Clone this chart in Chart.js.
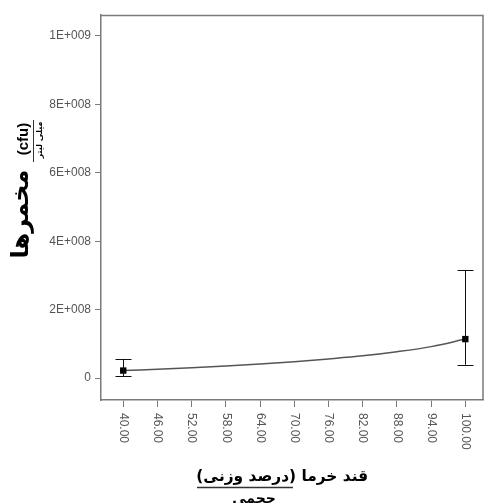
<!DOCTYPE html>
<html>
<head>
<meta charset="utf-8">
<script src="https://cdn.jsdelivr.net/npm/chart.js@4"></script>
<style>
html,body{margin:0;padding:0;background:#fff;}
canvas{display:block;}
</style>
</head>
<body>
<canvas id="c" width="484" height="503" style="width:484px;height:503px"></canvas>
<script>
// ---- data ----
const xTickValues = [40, 46, 52, 58, 64, 70, 76, 82, 88, 94, 100];
const xTickLabels = ['40.00','46.00','52.00','58.00','64.00','70.00','76.00','82.00','88.00','94.00','100.00'];
const yTickValues = [0, 2e8, 4e8, 6e8, 8e8, 1e9];
const yTickLabels = ['0','2E+008','4E+008','6E+008','8E+008','1E+009'];

const pointX = [40, 100];
const pointY = [2.2e7, 1.14e8];
const errLow = [5e6, 3.9e7];
const errHigh = [5.6e7, 3.16e8];

const curveX = [40, 46, 52, 58, 64, 70, 76, 82, 88, 94, 100];
const curveY = [2.2e7, 2.6e7, 3.0e7, 3.5e7, 4.1e7, 4.8e7, 5.6e7, 6.5e7, 7.7e7, 9.2e7, 1.14e8];

const yTitleMain = 'مخمرها';
const yTitleNum = '(cfu)';
const yTitleDen = 'میلی لیتر';
const xTitle = 'قند خرما (درصد وزنی)';
const xTitleDen = 'حجمی';

const axisColor = '#7a7a7a';
const tickFont = '12px "Liberation Sans", Arial, sans-serif';

const framePlugin = {
  id: 'frame',
  afterDatasetsDraw(chart) {
    const {ctx, chartArea: a, scales} = chart;
    ctx.save();
    ctx.strokeStyle = axisColor;
    ctx.lineWidth = 1.5;
    ctx.beginPath();
    ctx.moveTo(a.left, a.top + 0.5);
    ctx.lineTo(a.right, a.top + 0.5);
    ctx.lineTo(a.right, a.bottom);
    ctx.stroke();
    // error bars
    ctx.strokeStyle = '#111';
    ctx.lineWidth = 1;
    for (let i = 0; i < pointX.length; i++) {
      const px = Math.round(scales.x.getPixelForValue(pointX[i])) + 0.5;
      const yl = scales.y.getPixelForValue(errLow[i]);
      const yh = scales.y.getPixelForValue(errHigh[i]);
      ctx.beginPath();
      ctx.moveTo(px, yl); ctx.lineTo(px, yh);
      ctx.moveTo(px - 8, Math.round(yl) + 0.5); ctx.lineTo(px + 8, Math.round(yl) + 0.5);
      ctx.moveTo(px - 8, Math.round(yh) + 0.5); ctx.lineTo(px + 8, Math.round(yh) + 0.5);
      ctx.stroke();
    }
    ctx.restore();
  },
  afterDraw(chart) {
    const {ctx, scales} = chart;
    ctx.save();
    // x tick labels rotated clockwise
    ctx.fillStyle = '#555';
    ctx.font = tickFont;
    ctx.textAlign = 'left';
    ctx.textBaseline = 'middle';
    xTickValues.forEach((v, i) => {
      const px = scales.x.getPixelForValue(v);
      ctx.save();
      ctx.translate(px, 413);
      ctx.rotate(Math.PI / 2);
      ctx.fillText(xTickLabels[i], 0, 0);
      ctx.restore();
    });
    // x title (single RTL string, right edge at 368)
    ctx.fillStyle = '#000';
    ctx.direction = 'rtl';
    ctx.textAlign = 'right';
    ctx.textBaseline = 'alphabetic';
    let fs = 17;
    ctx.font = 'bold ' + fs + 'px "DejaVu Sans", sans-serif';
    const w = ctx.measureText(xTitle).width;
    fs = Math.min(18, fs * 172 / w);
    ctx.font = 'bold ' + fs.toFixed(1) + 'px "DejaVu Sans", sans-serif';
    ctx.fillText(xTitle, 368, 481);
    ctx.strokeStyle = '#333';
    ctx.lineWidth = 1.5;
    ctx.beginPath();
    ctx.moveTo(197, 487.5); ctx.lineTo(293, 487.5);
    ctx.stroke();
    ctx.textAlign = 'center';
    ctx.font = 'bold 14px "DejaVu Sans", sans-serif';
    ctx.fillText(xTitleDen, 254, 503);
    // y title (rotated ccw)
    ctx.save();
    ctx.rotate(-Math.PI / 2);
    ctx.font = 'bold 24px "DejaVu Sans", sans-serif';
    ctx.textBaseline = 'middle';
    ctx.fillText(yTitleMain, -214, 22);
    ctx.direction = 'ltr';
    ctx.font = 'bold 15px "Liberation Sans", Arial, sans-serif';
    ctx.fillText(yTitleNum, -139, 24);
    ctx.beginPath();
    ctx.lineWidth = 1;
    ctx.strokeStyle = '#333';
    ctx.moveTo(-162, 33.5); ctx.lineTo(-120, 33.5);
    ctx.stroke();
    ctx.direction = 'rtl';
    ctx.font = 'bold 8px "DejaVu Sans", sans-serif';
    ctx.fillText(yTitleDen, -140, 40);
    ctx.restore();
    ctx.restore();
  }
};

new Chart(document.getElementById('c'), {
  type: 'scatter',
  data: {
    datasets: [
      {
        type: 'line',
        data: curveX.map((x, i) => ({x, y: curveY[i]})),
        borderColor: '#555',
        borderWidth: 1.5,
        pointRadius: 0,
        cubicInterpolationMode: 'monotone',
        fill: false,
        order: 2
      },
      {
        type: 'scatter',
        data: pointX.map((x, i) => ({x, y: pointY[i]})),
        pointStyle: 'rect',
        pointRadius: 4.5,
        backgroundColor: '#000',
        borderColor: '#000',
        borderWidth: 0,
        order: 1
      }
    ]
  },
  options: {
    responsive: false,
    animation: false,
    devicePixelRatio: 1,
    layout: {autoPadding: false, padding: {top: 15, right: 1, left: 0, bottom: 0}},
    plugins: {legend: {display: false}, tooltip: {enabled: false}},
    scales: {
      x: {
        type: 'linear',
        min: 36.1,
        max: 103.1,
        afterBuildTicks(s) { s.ticks = xTickValues.map(v => ({value: v})); },
        afterFit(s) { s.height = 103; },
        ticks: {display: false},
        grid: {drawOnChartArea: false, drawTicks: true, tickLength: 7, color: axisColor, lineWidth: 1},
        border: {display: true, color: axisColor, width: 1.5}
      },
      y: {
        type: 'linear',
        min: -6.4e7,
        max: 1.061e9,
        afterBuildTicks(s) { s.ticks = yTickValues.map(v => ({value: v})); },
        afterFit(s) { s.width = 101; },
        ticks: {
          color: '#555',
          font: {family: '"Liberation Sans", Arial, sans-serif', size: 12},
          padding: 4,
          callback: (v, i) => yTickLabels[i]
        },
        grid: {drawOnChartArea: false, drawTicks: true, tickLength: 6, color: axisColor, lineWidth: 1},
        border: {display: true, color: axisColor, width: 1.5}
      }
    }
  },
  plugins: [framePlugin]
});
</script>
</body>
</html>
